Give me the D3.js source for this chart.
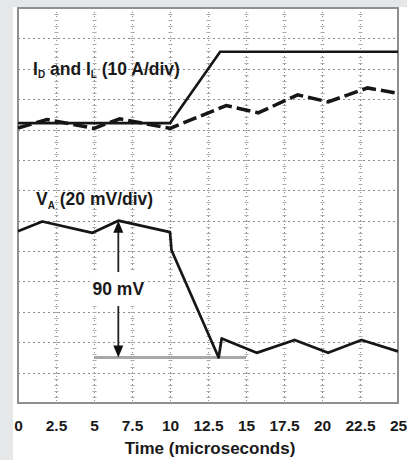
<!DOCTYPE html>
<html>
<head>
<meta charset="utf-8">
<script src="https://cdn.jsdelivr.net/npm/d3@7"></script>
<style>
    html, body { margin: 0; padding: 0; background: #e6e7e9; }
    svg { display: block; }
    text { font-family: "Liberation Sans", Arial, sans-serif; font-weight: bold; fill: #1a1a1a; }
</style>
</head>
<body>
<svg id="chart" width="407" height="460"></svg>
<script>
// time axis (microseconds)
var timeTicks = [0, 2.5, 5, 7.5, 10, 12.5, 15, 17.5, 20, 22.5, 25];

// switch current I_D (A)
var idTime = [0, 10, 13.3, 25];
var idAmps = [12.1, 12.1, 35.6, 35.6];

// inductor current I_L (A)
var ilTime = [0, 1.9, 5, 6.7, 10, 13.7, 15.8, 18.4, 20.4, 23, 25];
var ilAmps = [10.5, 13.3, 10.4, 13.5, 10.4, 17.9, 15.5, 21.4, 19.1, 23.7, 21.9];

// output voltage V_A (mV, relative to the lowest point)
var vaTime = [0, 1.6, 4.9, 6.6, 10, 10.1, 13.2, 13.4, 15.7, 18.2, 20.4, 22.6, 25];
var vaMilliVolts = [83, 89.5, 82, 90, 82.5, 70.5, 0, 12.5, 3, 11.5, 3, 11.5, 4];

// marked voltage drop
var dropTime = 6.6;
var dropMilliVolts = 90;
var refTime = [5, 15];

var svg = d3.select('#chart');

// plot box (note: "top" is taken by window.top)
var box = { left: 18, right: 398, top: 8, bottom: 403 };
var divisions = 13;

var x = d3.scaleLinear().domain([0, 25]).range([box.left, box.right]);
var yDiv = d3.scaleLinear().domain([0, divisions]).range([box.bottom, box.top]);
// 10 A/div and 20 mV/div on the same graticule
var yAmps = d3.scaleLinear().domain([-80, -80 + 10 * divisions]).range([box.bottom, box.top]);
var yVolts = d3.scaleLinear().domain([-30, -30 + 20 * divisions]).range([box.bottom, box.top]);

// white panel
svg.append("rect")
    .attr("x", 13).attr("y", 7)
    .attr("width", 407 - 13).attr("height", 460 - 7)
    .attr("fill", "#ffffff");

// graticule
var grid = svg.append("g").attr("stroke", "#8c8c8c").attr("stroke-width", 1);

grid.selectAll(".hline")
    .data(d3.range(1, divisions))
    .enter().append("line")
    .attr("x1", box.left).attr("x2", box.right)
    .attr("y1", function (d) { return Math.round(yDiv(d)) + 0.5; })
    .attr("y2", function (d) { return Math.round(yDiv(d)) + 0.5; })
    .attr("stroke-dasharray", "2,3");

grid.selectAll(".vline")
    .data(timeTicks.slice(1, -1))
    .enter().append("line")
    .attr("x1", function (d) { return Math.round(x(d)) + 0.5; })
    .attr("x2", function (d) { return Math.round(x(d)) + 0.5; })
    .attr("y1", box.top).attr("y2", box.bottom)
    .attr("stroke-dasharray", "1,3");

// minor ticks along the vertical lines, 5 per division
var minor = [];
timeTicks.slice(1, -1).forEach(function (t) {
    d3.range(0, divisions * 5).forEach(function (k) {
        minor.push([t, k / 5]);
    });
});
grid.selectAll(".minor")
    .data(minor)
    .enter().append("line")
    .attr("x1", function (d) { return Math.round(x(d[0])) - 1.5; })
    .attr("x2", function (d) { return Math.round(x(d[0])) + 2.5; })
    .attr("y1", function (d) { return Math.round(yDiv(d[1])) + 0.5; })
    .attr("y2", function (d) { return Math.round(yDiv(d[1])) + 0.5; })
    .attr("stroke", "#aaaaaa");

// frame
svg.append("rect")
    .attr("x", box.left).attr("y", box.top)
    .attr("width", box.right - box.left).attr("height", box.bottom - box.top)
    .attr("fill", "none")
    .attr("stroke", "#8f8f8f")
    .attr("stroke-width", 2);

// reference level for the voltage drop
svg.append("line")
    .attr("x1", x(refTime[0])).attr("x2", x(refTime[1]))
    .attr("y1", yVolts(0)).attr("y2", yVolts(0))
    .attr("stroke", "#a8a8a8")
    .attr("stroke-width", 3);

function zip(xs, ys) {
    return xs.map(function (v, i) { return [v, ys[i]]; });
}

// I_L dashed
svg.append("path")
    .datum(zip(ilTime, ilAmps))
    .attr("fill", "none")
    .attr("stroke", "#161616")
    .attr("stroke-width", 3.5)
    .attr("stroke-dasharray", "14,5")
    .attr("d", d3.line()
        .x(function (d) { return x(d[0]); })
        .y(function (d) { return yAmps(d[1]); }));

// I_D solid
svg.append("path")
    .datum(zip(idTime, idAmps))
    .attr("fill", "none")
    .attr("stroke", "#161616")
    .attr("stroke-width", 2.7)
    .attr("d", d3.line()
        .x(function (d) { return x(d[0]); })
        .y(function (d) { return yAmps(d[1]); }));

// V_A
svg.append("path")
    .datum(zip(vaTime, vaMilliVolts))
    .attr("fill", "none")
    .attr("stroke", "#161616")
    .attr("stroke-width", 2.7)
    .attr("stroke-linejoin", "round")
    .attr("d", d3.line()
        .x(function (d) { return x(d[0]); })
        .y(function (d) { return yVolts(d[1]); }));

// double arrow for the drop
var ax = x(dropTime);
var aTop = yVolts(dropMilliVolts);
var aBot = yVolts(0);
svg.append("line")
    .attr("x1", ax).attr("x2", ax)
    .attr("y1", aTop + 10).attr("y2", aBot - 10)
    .attr("stroke", "#222")
    .attr("stroke-width", 1.8);
svg.append("path")
    .attr("d", "M" + ax + "," + aTop + "l-5,12h10z")
    .attr("fill", "#111");
svg.append("path")
    .attr("d", "M" + ax + "," + aBot + "l-5,-12h10z")
    .attr("fill", "#111");

var midV = yVolts(dropMilliVolts / 2);
svg.append("rect")
    .attr("x", ax - 26).attr("y", midV - 17)
    .attr("width", 52).attr("height", 34)
    .attr("fill", "#ffffff");
svg.append("text")
    .attr("x", ax).attr("y", midV + 6)
    .attr("text-anchor", "middle")
    .style("font-size", "17.5px")
    .text(dropMilliVolts + " mV");

// trace labels
var lab1 = svg.append("text")
    .attr("x", 33).attr("y", 75)
    .style("font-size", "17.5px");
lab1.append("tspan").text("I");
lab1.append("tspan").attr("dy", 3).style("font-size", "10px").text("D");
lab1.append("tspan").attr("dy", -3).text(" and I");
lab1.append("tspan").attr("dy", 3).style("font-size", "10px").text("L");
lab1.append("tspan").attr("dy", -3).text(" (10 A/div)");

var lab2 = svg.append("text")
    .attr("x", 36).attr("y", 205)
    .style("font-size", "17.5px");
lab2.append("tspan").text("V");
lab2.append("tspan").attr("dy", 4).style("font-size", "10px").text("A");
lab2.append("tspan").attr("dy", -4).text(" (20 mV/div)");

// time axis
var xAxis = d3.axisBottom(x)
    .tickValues(timeTicks)
    .tickSize(0)
    .tickPadding(17)
    .tickFormat(function (d) { return d; });

var gx = svg.append("g")
    .attr("transform", "translate(0," + box.bottom + ")")
    .call(xAxis);
gx.select(".domain").remove();
gx.selectAll("text")
    .style("font-size", "15.5px")
    .style("font-family", "'Liberation Sans', Arial, sans-serif")
    .style("font-weight", "bold")
    .attr("fill", "#1a1a1a");

svg.append("text")
    .attr("x", 210).attr("y", 454)
    .attr("text-anchor", "middle")
    .style("font-size", "17px")
    .text("Time (microseconds)");
</script>
</body>
</html>
